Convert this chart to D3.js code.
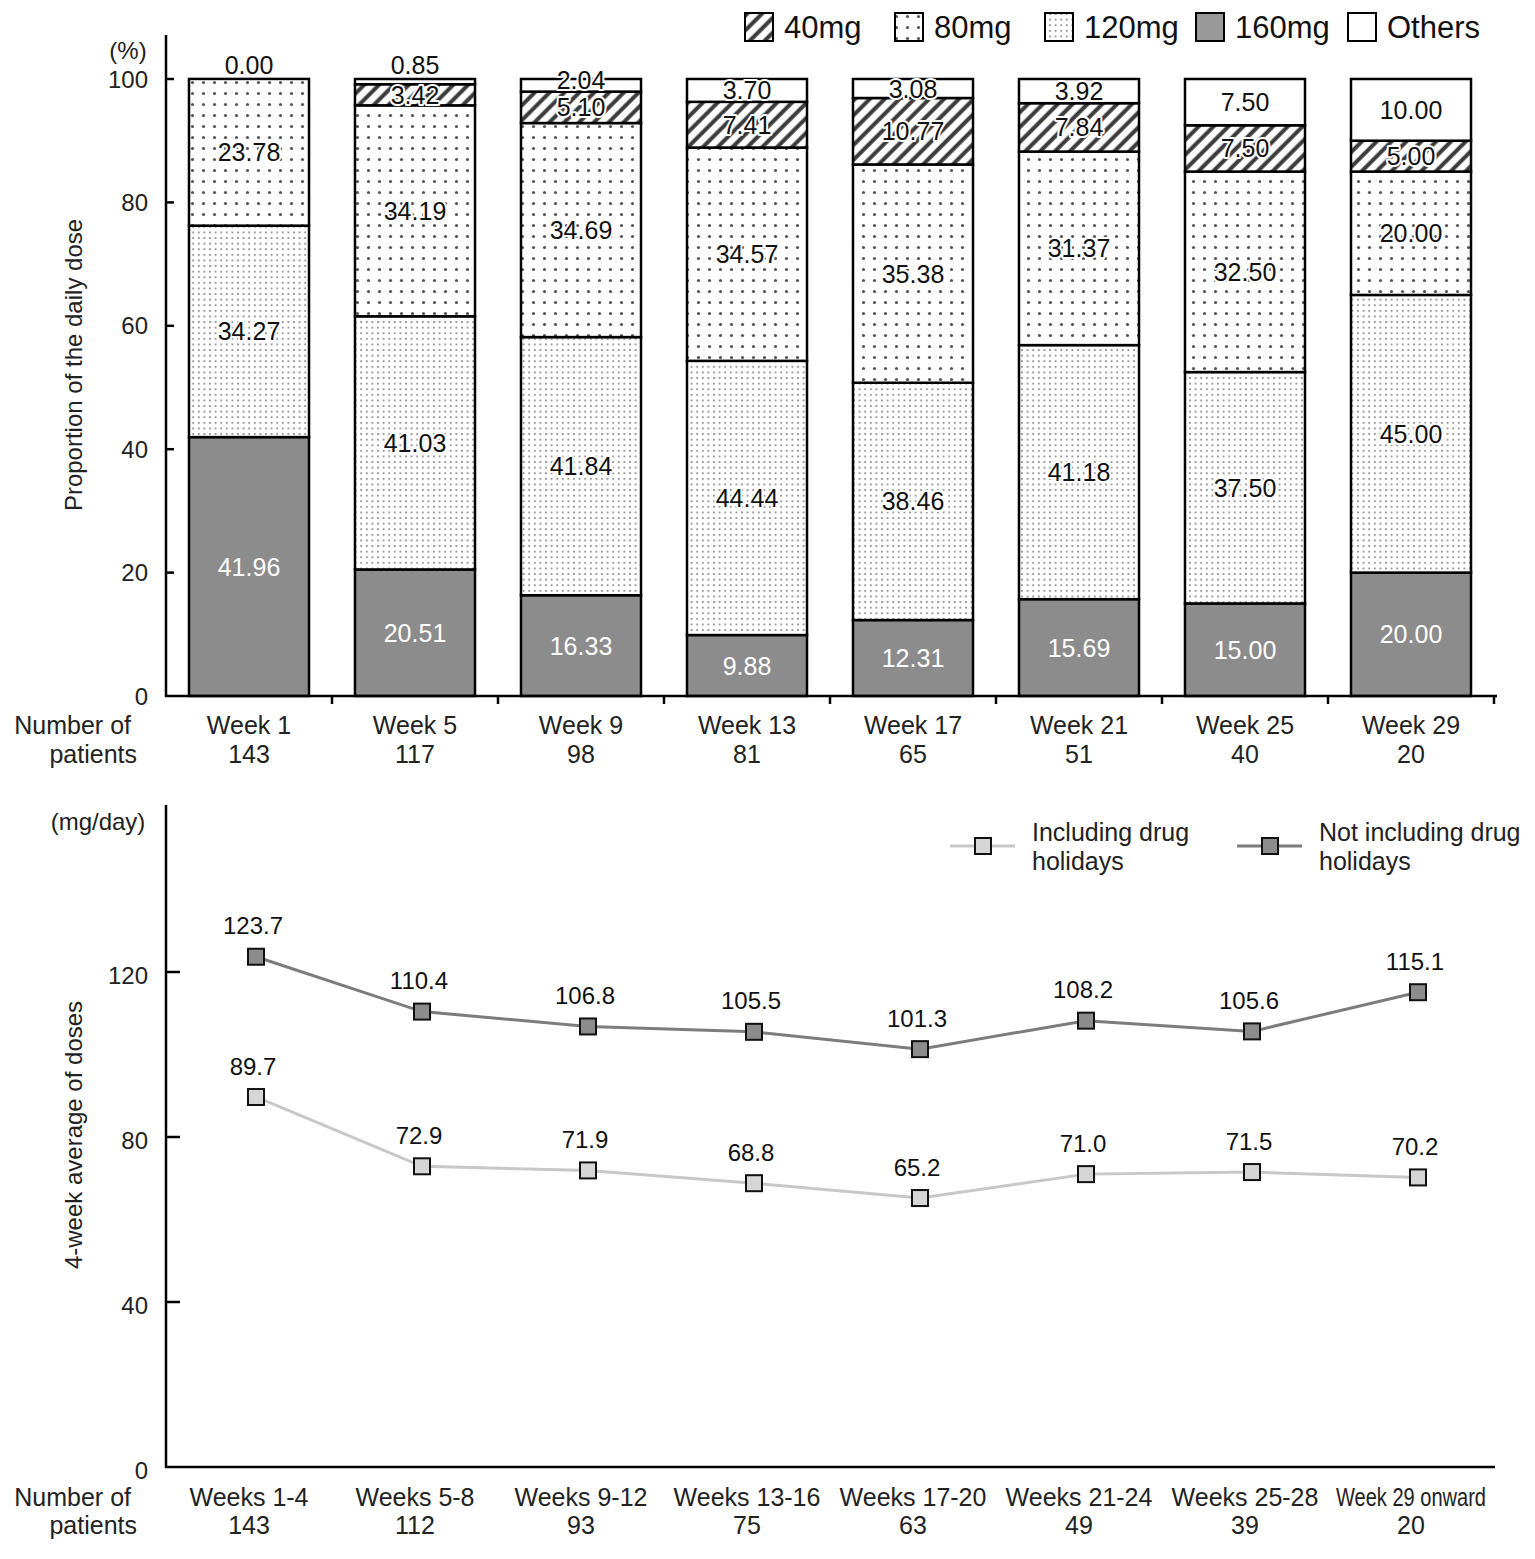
<!DOCTYPE html>
<html><head><meta charset="utf-8">
<script src="https://cdn.jsdelivr.net/npm/d3@7"></script>
<style>
body{margin:0;background:#fff;}
svg{font-family:"Liberation Sans",Arial,sans-serif;}
</style></head>
<body>
<svg id="c" width="1535" height="1559"></svg>
<script>
// ---------- DATA ----------
const weeks = ["Week 1","Week 5","Week 9","Week 13","Week 17","Week 21","Week 25","Week 29"];
const weekN = [143,117,98,81,65,51,40,20];
const dose160 = [41.96,20.51,16.33,9.88,12.31,15.69,15.00,20.00];
const dose120 = [34.27,41.03,41.84,44.44,38.46,41.18,37.50,45.00];
const dose80  = [23.78,34.19,34.69,34.57,35.38,31.37,32.50,20.00];
const dose40  = [null,3.42,5.10,7.41,10.77,7.84,7.50,5.00];
const others  = [0.00,0.85,2.04,3.70,3.08,3.92,7.50,10.00];
const doseNames = ["40mg","80mg","120mg","160mg","Others"];
const pctTicks = [0,20,40,60,80,100];

const periods = ["Weeks 1-4","Weeks 5-8","Weeks 9-12","Weeks 13-16","Weeks 17-20","Weeks 21-24","Weeks 25-28","Week 29 onward"];
const periodN = [143,112,93,75,63,49,39,20];
const inclHolidays = [89.7,72.9,71.9,68.8,65.2,71.0,71.5,70.2];
const notInclHolidays = [123.7,110.4,106.8,105.5,101.3,108.2,105.6,115.1];
const mgTicks = [0,40,80,120];
const lineNames = [["Including drug","holidays"],["Not including drug","holidays"]];

// ---------- SETUP ----------
const svg = d3.select("#c");
const defs = svg.append("defs");
const ink = "#111";
const FS = 25, FT = 24;

// patterns
const p40 = defs.append("pattern").attr("id","p40").attr("patternUnits","userSpaceOnUse")
  .attr("width",10.5).attr("height",10.5).attr("patternTransform","rotate(45)");
p40.append("rect").attr("width",10.5).attr("height",10.5).attr("fill","#fff");
p40.append("line").attr("x1",2.5).attr("y1",-1).attr("x2",2.5).attr("y2",12).attr("stroke","#3a3a3a").attr("stroke-width",4);

const p80 = defs.append("pattern").attr("id","p80").attr("patternUnits","userSpaceOnUse")
  .attr("width",11).attr("height",11);
p80.append("rect").attr("width",11).attr("height",11).attr("fill","#fff");
p80.append("circle").attr("cx",5.5).attr("cy",5.5).attr("r",1.6).attr("fill","#555");

const p120 = defs.append("pattern").attr("id","p120").attr("patternUnits","userSpaceOnUse")
  .attr("width",5.6).attr("height",5.6);
p120.append("rect").attr("width",5.6).attr("height",5.6).attr("fill","#fff");
p120.append("circle").attr("cx",2.8).attr("cy",2.8).attr("r",1.05).attr("fill","#8a8a8a");

const fills = {"40mg":"url(#p40)","80mg":"url(#p80)","120mg":"url(#p120)","160mg":"#8c8c8c","Others":"#fff"};

// ---------- TOP CHART ----------
const x1 = d3.scaleBand().domain(weeks).range([166,1494]).paddingInner(0.277).paddingOuter(0.1385);
const y1 = d3.scaleLinear().domain([0,100]).range([696,79]);

const stackData = weeks.map((w,i)=>({week:w, "160mg":dose160[i], "120mg":dose120[i], "80mg":dose80[i], "40mg":dose40[i]||0, "Others":others[i], raw40:dose40[i]}));
const order = ["160mg","120mg","80mg","40mg","Others"];
const stack = d3.stack().keys(order)(stackData);

const gBars = svg.append("g");
stack.forEach(layer=>{
  gBars.selectAll(null).data(layer).enter().append("rect")
    .attr("x",d=>x1(d.data.week)).attr("width",x1.bandwidth())
    .attr("y",d=>y1(d[1])).attr("height",d=>y1(d[0])-y1(d[1]))
    .attr("fill",fills[layer.key]).attr("stroke","#000").attr("stroke-width",2.5);
});

// segment labels
const gLab = svg.append("g").attr("font-size",FS).attr("text-anchor","middle");
stack.forEach(layer=>{
  layer.forEach(d=>{
    const v = d[1]-d[0];
    if(layer.key==="40mg" && d.data.raw40==null) return;
    const top = y1(d[1]), bot = y1(d[0]), h = bot-top;
    let yc;
    if(h<8) yc = top-14; else if(h<16) yc = top+1; else yc = (top+bot)/2;
    const t = gLab.append("text").attr("x",x1(d.data.week)+x1.bandwidth()/2).attr("y",yc)
      .attr("dy","0.36em").text(v.toFixed(2));
    if(layer.key==="160mg"){ t.attr("fill","#fff"); }
    else { t.attr("fill",ink).attr("stroke","#fff").attr("stroke-width",4).attr("paint-order","stroke").attr("stroke-linejoin","round"); }
  });
});

// axes top
const gy1 = svg.append("g").attr("font-size",FT).attr("fill","#222");
gy1.append("line").attr("x1",166).attr("x2",166).attr("y1",35).attr("y2",697).attr("stroke","#000").attr("stroke-width",2.5);
pctTicks.forEach(t=>{
  if(t>0) gy1.append("line").attr("x1",166).attr("x2",174).attr("y1",y1(t)).attr("y2",y1(t)).attr("stroke","#000").attr("stroke-width",2.5);
  gy1.append("text").attr("x",148).attr("y",y1(t)).attr("dy","0.36em").attr("text-anchor","end").text(t);
});
gy1.append("text").attr("x",128).attr("y",50).attr("dy","0.36em").attr("text-anchor","middle").text("(%)");
svg.append("line").attr("x1",165).attr("x2",1497).attr("y1",696).attr("y2",696).attr("stroke","#000").attr("stroke-width",2.5);
weeks.forEach((w,i)=>{
  const bx = x1.range()[0] + x1.step()*(i+1);
  svg.append("line").attr("x1",bx).attr("x2",bx).attr("y1",696).attr("y2",704).attr("stroke","#000").attr("stroke-width",2.5);
});
svg.append("text").attr("transform","translate(82,365) rotate(-90)").attr("text-anchor","middle")
  .attr("font-size",FT).attr("fill","#222").text("Proportion of the daily dose");

const gx1 = svg.append("g").attr("font-size",FS).attr("fill","#222").attr("text-anchor","middle");
weeks.forEach((w,i)=>{
  const cx = x1(w)+x1.bandwidth()/2;
  gx1.append("text").attr("x",cx).attr("y",725).attr("dy","0.36em").text(w);
  gx1.append("text").attr("x",cx).attr("y",754).attr("dy","0.36em").text(weekN[i]);
});
svg.append("text").attr("x",131).attr("y",725).attr("dy","0.36em").attr("text-anchor","end").attr("font-size",FS).attr("fill","#222").text("Number of");
svg.append("text").attr("x",137).attr("y",754).attr("dy","0.36em").attr("text-anchor","end").attr("font-size",FS).attr("fill","#222").text("patients");

// legend top
const legX = [745,895,1045,1196,1348];
const gLeg = svg.append("g");
doseNames.forEach((n,i)=>{
  gLeg.append("rect").attr("x",legX[i]).attr("y",13).attr("width",28).attr("height",28)
    .attr("fill",n==="160mg"?"#999":fills[n]).attr("stroke","#000").attr("stroke-width",2);
  gLeg.append("text").attr("x",legX[i]+39).attr("y",27).attr("dy","0.36em").attr("font-size",31).attr("fill","#111").text(n);
});

// ---------- BOTTOM CHART ----------
const x2 = d3.scaleBand().domain(periods).range([166,1494]).paddingInner(0.277).paddingOuter(0.1385);
const y2 = d3.scaleLinear().domain([0,160]).range([1467,807]);
const px = p => x2(p)+x2.bandwidth()/2 + 7;

svg.append("line").attr("x1",166).attr("x2",166).attr("y1",805).attr("y2",1468).attr("stroke","#000").attr("stroke-width",2.5);
svg.append("line").attr("x1",165).attr("x2",1495).attr("y1",1467).attr("y2",1467).attr("stroke","#000").attr("stroke-width",2.5);
mgTicks.forEach(t=>{
  if(t>0) svg.append("line").attr("x1",166).attr("x2",180).attr("y1",y2(t)).attr("y2",y2(t)).attr("stroke","#000").attr("stroke-width",2.5);
  svg.append("text").attr("x",148).attr("y",y2(t)+3).attr("dy","0.36em").attr("text-anchor","end").attr("font-size",FT).attr("fill","#222").text(t);
});
svg.append("text").attr("x",98).attr("y",821).attr("dy","0.36em").attr("text-anchor","middle").attr("font-size",FT).attr("fill","#222").text("(mg/day)");
svg.append("text").attr("transform","translate(82,1135) rotate(-90)").attr("text-anchor","middle")
  .attr("font-size",FT).attr("fill","#222").text("4-week average of doses");

const series = [
  {vals:inclHolidays, line:"#c8c8c8", fill:"#d6d6d6"},
  {vals:notInclHolidays, line:"#7c7c7c", fill:"#8c8c8c"}
];
const lineGen = d3.line().x((d,i)=>px(periods[i])).y(d=>y2(d));
series.forEach(s=>{
  svg.append("path").attr("d",lineGen(s.vals)).attr("fill","none").attr("stroke",s.line).attr("stroke-width",3);
  svg.append("g").selectAll("rect").data(s.vals).enter().append("rect")
    .attr("x",(d,i)=>px(periods[i])-8).attr("y",d=>y2(d)-8).attr("width",16).attr("height",16)
    .attr("fill",s.fill).attr("stroke","#111").attr("stroke-width",2);
  svg.append("g").selectAll("text").data(s.vals).enter().append("text")
    .attr("x",(d,i)=>px(periods[i])-3).attr("y",d=>y2(d)-31).attr("dy","0.36em")
    .attr("text-anchor","middle").attr("font-size",FT).attr("fill","#111").text(d=>d.toFixed(1));
});

// legend bottom
const lLegX = [950,1237];
lineNames.forEach((nm,i)=>{
  const s = series[i];
  svg.append("line").attr("x1",lLegX[i]).attr("x2",lLegX[i]+65).attr("y1",846).attr("y2",846).attr("stroke",s.line).attr("stroke-width",3);
  svg.append("rect").attr("x",lLegX[i]+25).attr("y",838).attr("width",16).attr("height",16).attr("fill",s.fill).attr("stroke","#111").attr("stroke-width",2);
  svg.append("text").attr("x",lLegX[i]+82).attr("y",832).attr("dy","0.36em").attr("font-size",FS).attr("fill","#222").text(nm[0]);
  svg.append("text").attr("x",lLegX[i]+82).attr("y",861).attr("dy","0.36em").attr("font-size",FS).attr("fill","#222").text(nm[1]);
});

// x labels bottom
periods.forEach((p,i)=>{
  const cx = x2(p)+x2.bandwidth()/2;
  const t = svg.append("text").attr("x",cx).attr("y",1497).attr("dy","0.36em").attr("text-anchor","middle").attr("font-size",FS).attr("fill","#222").text(p);
  if(p.length>12) t.attr("textLength",150).attr("lengthAdjust","spacingAndGlyphs");
  svg.append("text").attr("x",cx).attr("y",1525).attr("dy","0.36em").attr("text-anchor","middle").attr("font-size",FS).attr("fill","#222").text(periodN[i]);
});
svg.append("text").attr("x",131).attr("y",1497).attr("dy","0.36em").attr("text-anchor","end").attr("font-size",FS).attr("fill","#222").text("Number of");
svg.append("text").attr("x",137).attr("y",1525).attr("dy","0.36em").attr("text-anchor","end").attr("font-size",FS).attr("fill","#222").text("patients");
</script>
</body></html>
